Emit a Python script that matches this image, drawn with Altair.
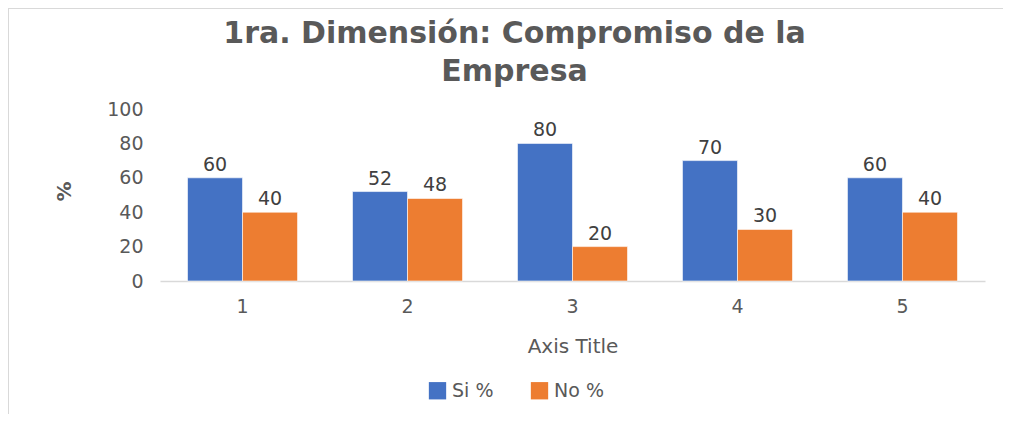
import altair as alt
import pandas as pd

categories = ["1", "2", "3", "4", "5"]
si_values = [60, 52, 80, 70, 60]
no_values = [40, 48, 20, 30, 40]
series = ["Si %", "No %"]
colors = ["#4472C4", "#ED7D31"]
y_ticks = [0, 20, 40, 60, 80, 100]

rows = []
for c, s, n in zip(categories, si_values, no_values):
    rows.append({"cat": c, "serie": "Si %", "val": s})
    rows.append({"cat": c, "serie": "No %", "val": n})
df = pd.DataFrame(rows)

FONT = "DejaVu Sans"
GRAY = "#595959"

x_enc = alt.X("cat:N", sort=categories,
              scale=alt.Scale(paddingInner=0.333, paddingOuter=0.1667),
              axis=alt.Axis(title="Axis Title", labelAngle=0, ticks=False,
                            domainColor="#D9D9D9", domainWidth=1.5,
                            labelPadding=16, labelFontSize=19, labelColor=GRAY,
                            labelFont=FONT, titleFont=FONT, titleFontSize=20,
                            titleFontWeight="normal", titleColor=GRAY,
                            titlePadding=20))
y_enc = alt.Y("val:Q", scale=alt.Scale(domain=[0, 100]),
              axis=alt.Axis(title="%", values=y_ticks,
                            grid=False, domain=False, ticks=False, labelOverlap=False,
                            labelPadding=17, labelFontSize=19, labelColor=GRAY,
                            labelFont=FONT, titleFont=FONT, titleFontSize=20,
                            titleFontWeight="bold", titleColor=GRAY,
                            titleX=-86, titleY=82))
xo = alt.XOffset("serie:N", sort=series, scale=alt.Scale(domain=series))
color = alt.Color("serie:N", sort=series,
                  scale=alt.Scale(domain=series, range=colors),
                  legend=alt.Legend(title=None, orient="none", direction="horizontal",
                                    legendX=268, legendY=272, symbolType="square",
                                    symbolSize=300, symbolStrokeWidth=0,
                                    labelFontSize=19, labelColor=GRAY, labelFont=FONT,
                                    columnPadding=36, labelOffset=5))

bars = alt.Chart(df).mark_bar(stroke="white", strokeWidth=0.6).encode(
    x=x_enc, xOffset=xo, y=y_enc, color=color)

labels = alt.Chart(df).mark_text(dy=-13, fontSize=19, color="#404040", font=FONT).encode(
    x=x_enc, xOffset=xo, y=y_enc, text="val:Q")

border_left = alt.Chart(df).mark_rule(color="#D9D9D9", strokeWidth=2).encode(
    x=alt.value(-152), y=alt.value(-101), y2=alt.value(320))
border_top = alt.Chart(df).mark_rule(color="#D9D9D9", strokeWidth=2).encode(
    x=alt.value(-152), x2=alt.value(850), y=alt.value(-101))

chart = alt.layer(bars, labels, border_left, border_top).properties(
    width=825, height=172,
    autosize=alt.AutoSizeParams(type="none"),
    padding={"left": 152, "top": 101, "right": 18, "bottom": 133},
    title=alt.TitleParams(text=["1ra. Dimensión: Compromiso de la", "Empresa"],
                          fontSize=30, font=FONT, fontWeight="bold", color=GRAY,
                          anchor="middle", dx=-58, offset=-80, lineHeight=38),
).configure_view(stroke=None).configure_axis(labelOverlap=False)

chart.save("out.html", embed_options={"renderer": "svg", "actions": False})
